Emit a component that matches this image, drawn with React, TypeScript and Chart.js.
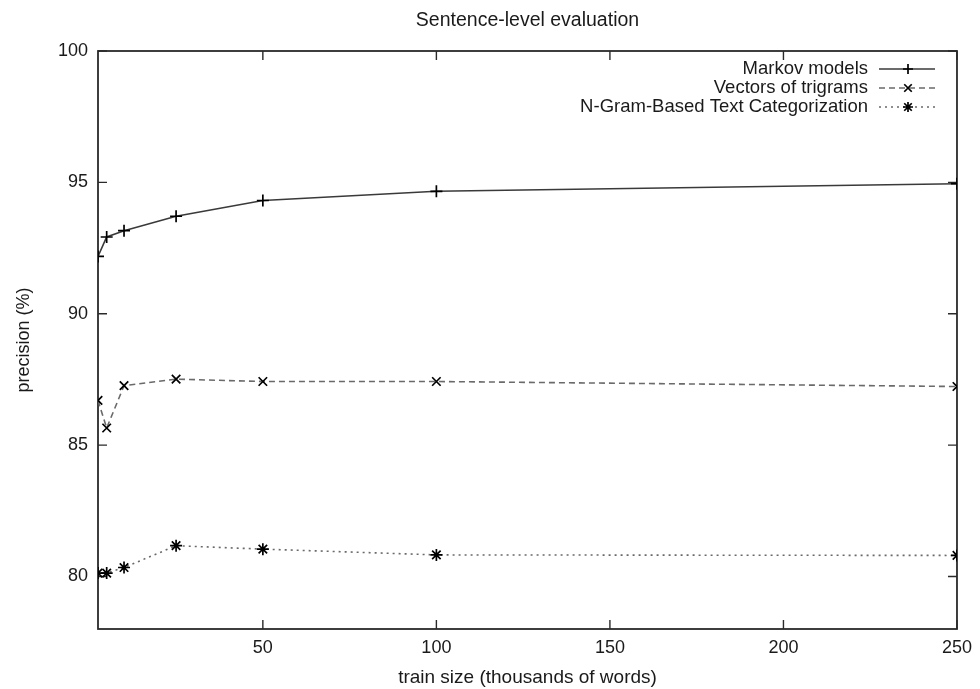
import React, { useEffect, useRef } from "react";
import { Chart, registerables } from "chart.js";

Chart.register(...registerables);

const trainSizes = [2.5, 5, 10, 25, 50, 100, 250];
const markovPrecision = [92.18, 92.92, 93.16, 93.71, 94.31, 94.66, 94.95];
const trigramPrecision = [86.7, 85.65, 87.26, 87.51, 87.42, 87.42, 87.23];
const ngramPrecision = [80.13, 80.13, 80.34, 81.17, 81.04, 80.82, 80.8];
const seriesLabels = [
  "Markov models",
  "Vectors of trigrams",
  "N-Gram-Based Text Categorization",
];
const xTickValues = [50, 100, 150, 200, 250];
const yTickValues = [80, 85, 90, 95, 100];
const chartTitle = "Sentence-level evaluation";
const xAxisTitle = "train size (thousands of words)";
const yAxisTitle = "precision (%)";

const FONT = "'Liberation Sans', Arial, Helvetica, sans-serif";
const TEXT = "#1a1a1a";

function drawMarker(ctx: CanvasRenderingContext2D, style: string, x: number, y: number, r: number) {
  ctx.beginPath();
  if (style === "cross") {
    ctx.moveTo(x - r, y); ctx.lineTo(x + r, y);
    ctx.moveTo(x, y - r); ctx.lineTo(x, y + r);
  } else if (style === "crossRot") {
    const d = r * 0.75;
    ctx.moveTo(x - d, y - d); ctx.lineTo(x + d, y + d);
    ctx.moveTo(x - d, y + d); ctx.lineTo(x + d, y - d);
  } else {
    const d = r * 0.75;
    ctx.moveTo(x - r, y); ctx.lineTo(x + r, y);
    ctx.moveTo(x, y - r); ctx.lineTo(x, y + r);
    ctx.moveTo(x - d, y - d); ctx.lineTo(x + d, y + d);
    ctx.moveTo(x - d, y + d); ctx.lineTo(x + d, y - d);
  }
  ctx.stroke();
}

const framePlugin = {
  id: "gnuFrame",
  beforeDatasetsDraw(chart: any) {
    const { ctx, chartArea: a, scales } = chart;
    ctx.save();
    ctx.strokeStyle = "#2a2a2a";
    ctx.lineWidth = 1.8;
    ctx.strokeRect(a.left, a.top, a.right - a.left, a.bottom - a.top);
    ctx.lineWidth = 1.4;
    ctx.beginPath();
    const t = 9;
    xTickValues.forEach((v) => {
      const x = scales.x.getPixelForValue(v);
      ctx.moveTo(x, a.bottom); ctx.lineTo(x, a.bottom - t);
      ctx.moveTo(x, a.top); ctx.lineTo(x, a.top + t);
    });
    yTickValues.forEach((v) => {
      const y = scales.y.getPixelForValue(v);
      ctx.moveTo(a.left, y); ctx.lineTo(a.left + t, y);
      ctx.moveTo(a.right, y); ctx.lineTo(a.right - t, y);
    });
    ctx.stroke();
    ctx.restore();
  },
};

const titleAndLegendPlugin = {
  id: "gnuLegend",
  afterDraw(chart: any) {
    const { ctx, chartArea: a } = chart;
    ctx.save();
    ctx.fillStyle = TEXT;
    ctx.font = `19.5px ${FONT}`;
    ctx.textAlign = "center";
    ctx.textBaseline = "middle";
    ctx.fillText(chartTitle, (a.left + a.right) / 2, 21);

    ctx.font = `18.5px ${FONT}`;
    ctx.textAlign = "right";
    const textRight = 868;
    chart.data.datasets.forEach((ds: any, i: number) => {
      const y = a.top + 18 + i * 19;
      ctx.fillStyle = TEXT;
      ctx.fillText(ds.label, textRight, y);
      ctx.strokeStyle = ds.borderColor;
      ctx.lineWidth = ds.borderWidth;
      ctx.setLineDash(ds.borderDash || []);
      ctx.beginPath();
      ctx.moveTo(textRight + 11, y);
      ctx.lineTo(textRight + 67, y);
      ctx.stroke();
      ctx.setLineDash([]);
      ctx.strokeStyle = "#000";
      ctx.lineWidth = 1.7;
      drawMarker(ctx, ds.pointStyle, textRight + 40, y, 5);
    });
    ctx.restore();
  },
};

export default function App() {
  const canvasRef = useRef<HTMLCanvasElement | null>(null);

  useEffect(() => {
    document.body.style.margin = "0";
    const canvas = canvasRef.current;
    if (!canvas) return;
    const mk = (vals: number[]) => trainSizes.map((x, i) => ({ x, y: vals[i] }));
    const common = {
      borderWidth: 1.6,
      pointRadius: 6,
      pointBorderColor: "#000",
      pointBorderWidth: 1.7,
      fill: false,
    };
    const chart = new Chart(canvas, {
      type: "line",
      data: {
        datasets: [
          {
            ...common,
            label: seriesLabels[0],
            data: mk(markovPrecision),
            borderColor: "#3a3a3a",
            pointStyle: "cross",
          },
          {
            ...common,
            label: seriesLabels[1],
            data: mk(trigramPrecision),
            borderColor: "#6a6a6a",
            borderDash: [6, 4],
            pointStyle: "crossRot",
          },
          {
            ...common,
            label: seriesLabels[2],
            data: mk(ngramPrecision),
            borderColor: "#6a6a6a",
            borderDash: [2, 4],
            pointStyle: "star",
          },
        ],
      },
      options: {
        animation: false,
        responsive: true,
        maintainAspectRatio: false,
        layout: { padding: { top: 51, right: 22, bottom: 0, left: 0 } },
        plugins: {
          legend: { display: false },
          tooltip: { enabled: false },
          title: { display: false },
        },
        scales: {
          x: {
            type: "linear",
            min: 2.5,
            max: 250,
            grid: { display: false, drawTicks: false },
            border: { display: false },
            afterBuildTicks: (s: any) => {
              s.ticks = xTickValues.map((v) => ({ value: v }));
            },
            afterFit: (s: any) => {
              s.height = 60;
            },
            ticks: {
              color: TEXT,
              font: { family: FONT, size: 18 },
              padding: 8,
              maxRotation: 0,
              autoSkip: false,
            },
            title: {
              display: true,
              text: xAxisTitle,
              color: TEXT,
              font: { family: FONT, size: 19 },
              padding: { top: 0, bottom: 0 },
            },
          },
          y: {
            type: "linear",
            min: 78,
            max: 100,
            grid: { display: false, drawTicks: false },
            border: { display: false },
            afterBuildTicks: (s: any) => {
              s.ticks = yTickValues.map((v) => ({ value: v }));
            },
            afterFit: (s: any) => {
              s.width = 98;
            },
            ticks: {
              color: TEXT,
              font: { family: FONT, size: 18 },
              padding: 10,
              autoSkip: false,
            },
            title: {
              display: true,
              text: yAxisTitle,
              color: TEXT,
              font: { family: FONT, size: 18 },
              padding: { top: 13, bottom: 0 },
            },
          },
        },
      },
      plugins: [framePlugin, titleAndLegendPlugin],
    });
    return () => chart.destroy();
  }, []);

  return (
    <div style={{ position: "relative", width: 980, height: 689, background: "#fff" }}>
      <canvas ref={canvasRef} />
    </div>
  );
}
